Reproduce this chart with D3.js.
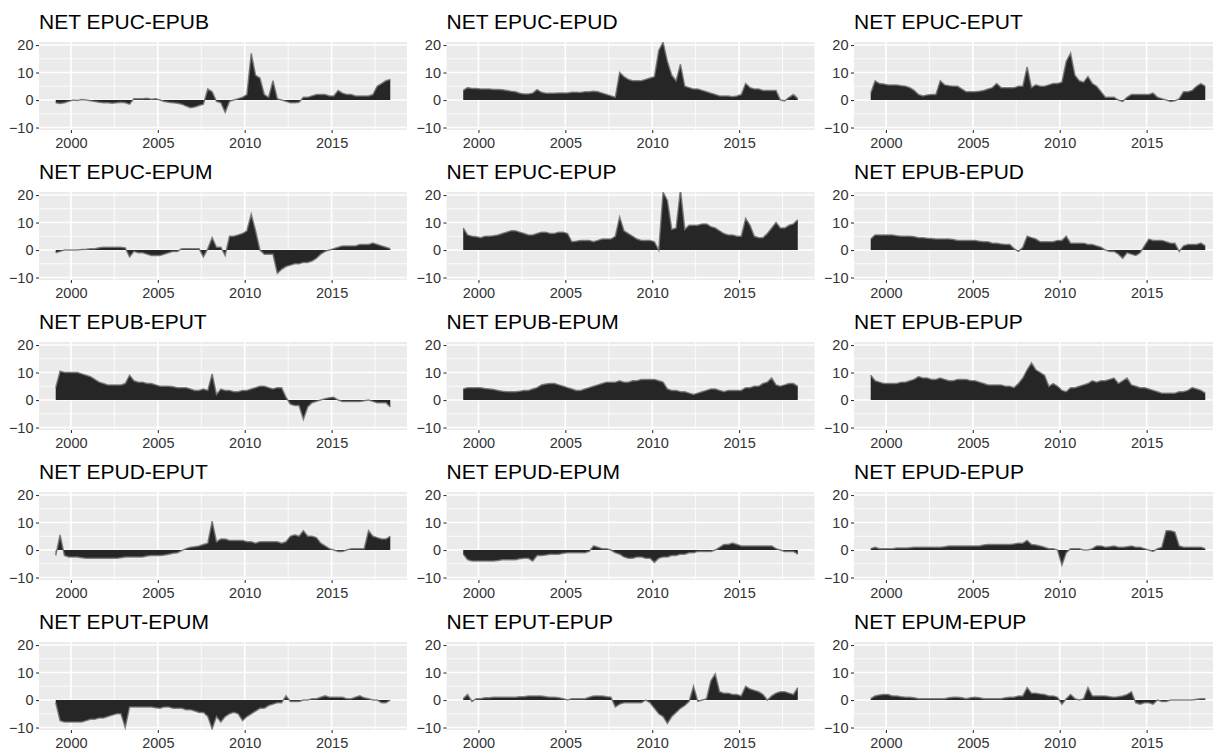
<!DOCTYPE html>
<html>
<head>
<meta charset="utf-8">
<script src="https://cdn.jsdelivr.net/npm/d3@7"></script>
<style>
  body { margin: 0; background: #fff; }
  svg { display: block; font-family: "Liberation Sans", Arial, Helvetica, sans-serif; }
</style>
</head>
<body>
<script>
// panel titles, in facet order (row by row)
var titles = [
  "NET EPUC-EPUB", "NET EPUC-EPUD", "NET EPUC-EPUT",
  "NET EPUC-EPUM", "NET EPUC-EPUP", "NET EPUB-EPUD",
  "NET EPUB-EPUT", "NET EPUB-EPUM", "NET EPUB-EPUP",
  "NET EPUD-EPUT", "NET EPUD-EPUM", "NET EPUD-EPUP",
  "NET EPUT-EPUM", "NET EPUT-EPUP", "NET EPUM-EPUP"
];

var xTicks = [2000, 2005, 2010, 2015];
var xMinor = [2002.5, 2007.5, 2012.5, 2017.5];
var yTicks = [-10, 0, 10, 20];
var yMinor = [-5, 5, 15];
var yLimits = [-10.9, 21.1];

// one value per quarter, 1999 Q1 .. 2018 Q2
var quarters = d3.range(78).map(function(i) { return 1999.125 + i * 0.25; });

var epucEpub = [
  -1, -1.3, -1, -0.5,   0, -0.2, 0.2, 0,   -0.3, -0.5, -0.8, -1,   -1, -1.2, -1, -0.8,
  -1, -1.5, 0.5, 0.5,   0.5, 0.6, 0.3, 0.5,   0, -0.5, -0.8, -1,   -1.2, -1.5, -2.2, -2.8,
  -2.5, -2, -1.5, 4,   3, -0.5, -1, -4.5,   -0.5, 0, 0.5, 1,   2, 17, 9, 8,
  2, 1, 7, 0.5,   0, -0.5, -1, -1,   -0.8, 1, 1, 1.5,   2, 2, 2, 1.5,
  1.5, 3.5, 2.5, 2,   2, 1.5, 1.5, 1.5,   1.5, 2, 5, 6,   7, 7.5
];
var epucEpud = [
  3.5, 4.5, 4.2, 4.2,   4, 4, 4, 3.8,   3.8, 3.7, 3.5, 3.2,   3, 2.5, 2.2, 2.2,
  2.5, 3.8, 2.8, 2.5,   2.5, 2.5, 2.6, 2.6,   2.6, 2.8, 2.8, 2.7,   3, 3, 3.2, 3,
  2.5, 2, 1.5, 1,   10, 8.5, 7.5, 7,   7, 7, 7.5, 8,   8.5, 18, 21, 14,
  9, 7, 13, 5,   4.5, 4, 4, 3.5,   3, 2.5, 2, 1.5,   1.5, 1.5, 1.2, 1.5,
  2, 6, 4.5, 4,   4, 3.5, 3.5, 3.5,   3.5, 0, -0.3, 1,   2, 0.5
];
var epucEput = [
  2.5, 7, 6, 5.8,   5.5, 5.5, 5.5, 5.2,   5, 4.5, 3.5, 2,   1.5, 1.8, 2, 2,
  7, 5.5, 5.2, 5,   5, 4, 3, 3,   3, 3.2, 3.5, 4,   4.5, 6, 4.5, 4.5,
  4.5, 4.5, 5, 5,   12, 4.5, 5.5, 5,   5, 5.5, 6, 6,   6.5, 14, 17, 9,
  7, 6.5, 8.5, 6,   5, 3, 1, 1,   1, 0, -0.5, 1,   2, 2, 2, 2,
  2, 2.5, 1, 0.5,   0, -0.5, -0.3, 0.5,   3, 3, 3.5, 5,   6, 5
];
var epucEpum = [
  -1, -0.5, 0, 0,   0, 0, 0.2, 0.3,   0.5, 0.5, 0.8, 1,   1, 1, 1, 1,
  0.8, -2.5, -0.5, -1,   -1, -1.5, -2, -2,   -2, -1.5, -1, -0.5,   -0.5, 0.5, 0.5, 0.5,
  0.5, 0.5, -2.5, 0.5,   4.5, 1, 1, -2,   5, 5, 5.5, 6,   7, 13, 7, 0,
  -1.5, -1.5, -1.5, -8.5,   -7, -6, -5.5, -5,   -5, -4.5, -4.5, -4,   -3, -1.5, -0.5, 0,
  0.5, 1, 1.5, 1.5,   1.5, 1.5, 2, 2,   2, 2.5, 2, 1.5,   1, 0.5
];
var epucEpup = [
  8, 5.5, 5, 4.8,   4.5, 5, 5, 5.2,   5.5, 6, 6.5, 7,   7, 6.5, 6, 5.5,
  5.5, 6, 6.5, 6.5,   6, 6, 6.5, 6.5,   6, 3, 3.2, 3.5,   3.5, 3.5, 3, 3.5,
  4, 4, 4, 5,   12, 7, 6, 5,   4, 3.5, 3.5, 3.5,   3, 0, 21, 18,
  7.5, 8, 22, 7.5,   9, 9, 9, 9.5,   9.5, 8.5, 8, 7,   6, 5.5, 5.5, 5,
  5, 11.5, 9, 5,   4.5, 4.5, 6, 8,   10, 8, 8, 9,   9.5, 11
];
var epubEpud = [
  4, 5.5, 5.5, 5.5,   5.5, 5.5, 5.2, 5,   5, 5, 4.8, 4.5,   4.5, 4.3, 4.2, 4,
  4, 4, 4, 3.8,   3.5, 3.5, 3.5, 3.5,   3.5, 3.2, 3, 3,   2.5, 2.5, 2.2, 2,
  2, 0.5, -0.5, 1,   5, 4.5, 4, 3,   3, 3, 3, 3.5,   3.5, 5, 2.5, 2.5,
  2.5, 2.5, 2, 2,   1.5, 1, 0, -0.5,   -0.5, -1.5, -3, -1,   -1.5, -2, -1, 1.5,
  4, 3.5, 3.5, 3.5,   3, 2.5, 2.5, -0.5,   1.5, 2, 2, 2,   2.5, 1.5
];
var epubEput = [
  4.5, 10.5, 10, 10,   10, 10, 9.5, 9,   8.5, 7.5, 6.5, 6,   5.5, 5.5, 5.5, 5.5,
  6, 9, 7, 6.5,   6.5, 6, 6, 5.5,   5, 5, 5, 4.8,   4.5, 4.5, 4.5, 4,
  3.5, 3.5, 4, 3.5,   9.5, 2, 4, 3.5,   3.5, 3, 3, 3.5,   3.5, 4, 4.5, 5,
  5, 4.5, 4, 4.5,   4.5, 1, -1.5, -2,   -2, -7, -2.5, -1,   -0.5, 0, 0.5, 0.8,
  1, 0, -0.5, -0.5,   -0.5, -0.5, -0.5, -0.3,   0, -0.5, -1, -1,   -1, -2.5
];
var epubEpum = [
  4, 4.5, 4.5, 4.5,   4.5, 4.2, 4, 3.8,   3.5, 3.2, 3, 3,   3, 3.2, 3.5, 3.5,
  4, 4.5, 5.5, 5.8,   6, 6, 5.5, 5,   4.5, 4, 3.5, 3.5,   4, 4.5, 5, 5.5,
  6, 6.5, 6.5, 6.5,   7, 6.5, 6.5, 7,   7, 7.5, 7.5, 7.5,   7.5, 7, 6.5, 4,
  3.5, 3.5, 3, 3,   2.5, 2, 2.5, 3,   3.5, 4, 4, 3.5,   3, 3.5, 3.5, 3.5,
  3.5, 4.5, 4.5, 5,   5, 6, 6.5, 8,   5.5, 5, 5.5, 6,   6, 5
];
var epubEpup = [
  9, 7, 6.5, 6,   6, 6, 6, 6.5,   6.5, 7, 7.5, 8.5,   8, 8, 7.5, 7.5,
  8, 7.5, 7, 7,   7.5, 7.5, 7.5, 7,   7, 6.5, 6, 5.5,   5.5, 5.5, 5.5, 5,
  5, 4.5, 6, 8,   11, 13.5, 11, 10,   9, 5, 6, 5,   3.5, 3, 4.5, 4.5,
  5, 5.5, 6, 7,   6.5, 7, 7, 7.5,   8, 6, 7, 8,   5.5, 5, 4.5, 4.5,
  4, 3.5, 3, 2.5,   2.5, 2.5, 2.5, 3,   3, 3.5, 4.5, 4,   3.5, 2.5
];
var epudEput = [
  -2, 5.5, -2, -2.5,   -2.5, -2.5, -2.8, -3,   -3, -3, -3, -3,   -3, -3, -3, -2.8,
  -2.5, -2.5, -2.5, -2.5,   -2.5, -2.2, -2, -2,   -2, -1.8, -1.5, -1.2,   -1, -0.2, 0.5, 1,
  1.2, 1.5, 2, 2.5,   10.5, 3, 4, 4,   3.5, 3.5, 3.5, 3.5,   3, 3, 2.5, 3,
  3, 3, 3, 3,   2.5, 3, 5, 5.5,   5, 7, 5, 5,   4.5, 2.5, 1.5, 0.5,
  0, -0.5, -0.5, 0,   0.5, 0.5, 0.5, 0.5,   7, 5, 4.5, 4,   4, 5
];
var epudEpum = [
  -1.5, -3.5, -4, -4,   -4, -4, -4, -4,   -3.8, -3.5, -3.5, -3.5,   -3.5, -3.2, -3, -3,
  -4, -2, -2, -1.8,   -1.5, -1.5, -1.5, -1.2,   -1, -1, -1, -1,   -1, -0.5, 1.5, 1,
  0.5, 0.5, 0, -1,   -1.5, -2.5, -3, -3,   -2.5, -2.5, -3, -3,   -4.5, -3, -2.5, -2.5,
  -2, -2, -1.5, -1.5,   -1, -1, -0.5, -0.5,   -0.5, -0.5, 0, 1,   2, 2, 2.5, 2,
  1.5, 1.5, 1.5, 1.5,   1.5, 1.5, 1.5, 1.5,   0.5, 0, -0.5, -0.5,   -0.5, -1.5
];
var epudEpup = [
  0.5, 1, 0.5, 0.5,   0.5, 0.5, 0.7, 0.7,   0.7, 0.8, 1, 1,   1, 1, 1, 1,
  1, 1.2, 1.5, 1.5,   1.5, 1.5, 1.5, 1.5,   1.5, 1.5, 1.8, 2,   2, 2, 2, 2,
  2, 2.2, 2.5, 2.5,   3.5, 2, 1.8, 1.5,   1, 0.5, 0.5, 0,   -5.5, -1, 0.5, 0.5,
  0.5, 0, 0, 0.5,   1.5, 1.5, 1, 1.2,   1.5, 1, 1, 1.2,   1.5, 1, 1, 0.5,
  0, -0.5, 0.5, 1,   7, 7, 6.5, 1.5,   1, 1, 1, 1,   1, 0.5
];
var eputEpum = [
  -1, -7.5, -8, -8,   -8, -8, -8, -7.5,   -7, -7, -6.5, -6.5,   -6, -5.5, -5, -5,
  -10, -2.5, -2.5, -2.5,   -2.5, -2.5, -2.5, -2.8,   -3, -2.5, -2.5, -3,   -3, -3, -3.5, -3.5,
  -4, -4.5, -4.5, -6,   -10.5, -6, -8, -6,   -5, -4.5, -5, -7.5,   -6, -5, -4, -3,
  -3, -2, -1.5, -1,   -1, 1.5, -0.5, -0.5,   -0.5, 0, 0, 0.5,   0.5, 1, 1.5, 1,
  1, 1, 1, 0.5,   0.5, 1, 1.5, 0.8,   0.5, 0, 0, -1,   -1, 0
];
var eputEpup = [
  0.5, 2, -0.5, 0.5,   0.5, 0.8, 0.8, 1,   1, 1, 1, 1,   1, 1.2, 1.2, 1.5,
  1.5, 1.5, 1.5, 1.2,   1, 1, 0.8, 0.5,   0, 0.5, 0.5, 0.5,   0.5, 1, 1.5, 1.5,
  1.5, 1.2, 1, -2.5,   -1.5, -1, -1, -1,   -1, -1, 0, -1,   -3, -5, -6, -8.5,
  -6, -4.5, -3, -2,   -0.5, 5, -0.5, 0,   0.5, 7, 9.5, 3,   2.5, 2.5, 2, 2,
  1.5, 5, 4, 3.5,   3, 2, 0, 1.5,   2.5, 3, 3, 2.5,   2, 4.5
];
var epumEpup = [
  0.5, 1.5, 1.8, 2,   2, 1.5, 1.5, 1.2,   1, 1, 0.8, 0.5,   0.5, 0.5, 0.5, 0.5,
  0.5, 0.5, 0.8, 1,   1, 0.8, 0.5, 0.8,   1, 0.8, 0.5, 0.5,   0.5, 0.5, 0.5, 0.8,
  1, 1, 1.5, 1.5,   4.5, 2.5, 2.5, 2.2,   2, 1.5, 1.5, 1,   -1.5, 0.5, 2, 0.5,
  0, 0.5, 4.5, 1.5,   1.5, 1.5, 1.5, 1.2,   1, 1.2, 1.5, 2,   3, -1, -1.5, -1,
  -1, -1.5, 0, -0.5,   -0.5, 0, 0, 0,   0, 0, 0, 0.3,   0.5, 0.5
];

var series = [
  epucEpub, epucEpud, epucEput,
  epucEpum, epucEpup, epubEpud,
  epubEput, epubEpum, epubEpup,
  epudEput, epudEpum, epudEpup,
  eputEpum, eputEpup, epumEpup
];

var width = 1213, height = 752;
var panelW = 368, panelH = 88;
var colStep = 407.5, rowStep = 150;
var left0 = 39, top0 = 42;

//create main svg element
var svg = d3.select("body")
  .append("svg")
  .attr("width", width)
  .attr("height", height);

// x range with ggplot's 5% padding on each side
var ext = d3.extent(quarters);
var pad = (ext[1] - ext[0]) * 0.05;
var x = d3.scaleLinear().domain([ext[0] - pad, ext[1] + pad]).range([0, panelW]);
var y = d3.scaleLinear().domain(yLimits).range([panelH, 0]);

var area = d3.area()
  .x(function(d, i) { return x(quarters[i]); })
  .y0(y(0))
  .y1(function(d) { return y(d); });

var line = d3.line()
  .x(function(d, i) { return x(quarters[i]); })
  .y(function(d) { return y(d); });

series.forEach(function(values, k) {
  var col = k % 3, row = Math.floor(k / 3);
  var g = svg.append("g")
    .attr("transform", "translate(" + (left0 + col * colStep) + "," + (top0 + row * rowStep) + ")");

  g.append("text")
    .attr("x", 0)
    .attr("y", -13)
    .attr("font-size", 21)
    .attr("fill", "#000")
    .text(titles[k]);

  g.append("rect")
    .attr("width", panelW)
    .attr("height", panelH)
    .attr("fill", "#ebebeb");

  // minor then major grid
  g.selectAll(".ymin").data(yMinor).enter().append("line")
    .attr("x1", 0).attr("x2", panelW)
    .attr("y1", y).attr("y2", y)
    .attr("stroke", "#fff").attr("stroke-width", 0.8);
  g.selectAll(".xmin").data(xMinor).enter().append("line")
    .attr("y1", 0).attr("y2", panelH)
    .attr("x1", x).attr("x2", x)
    .attr("stroke", "#fff").attr("stroke-width", 0.8);
  g.selectAll(".ymaj").data(yTicks).enter().append("line")
    .attr("x1", 0).attr("x2", panelW)
    .attr("y1", y).attr("y2", y)
    .attr("stroke", "#fff").attr("stroke-width", 1.6);
  g.selectAll(".xmaj").data(xTicks).enter().append("line")
    .attr("y1", 0).attr("y2", panelH)
    .attr("x1", x).attr("x2", x)
    .attr("stroke", "#fff").attr("stroke-width", 1.6);

  var clipId = "clip" + k;
  g.append("clipPath").attr("id", clipId)
    .append("rect").attr("width", panelW).attr("height", panelH);

  var marks = g.append("g").attr("clip-path", "url(#" + clipId + ")");
  marks.append("path")
    .datum(values)
    .attr("d", area)
    .attr("fill", "#262626");
  // lighter edge like the original
  marks.append("path")
    .datum(values)
    .attr("d", line)
    .attr("fill", "none")
    .attr("stroke", "rgba(115,115,115,0.85)")
    .attr("stroke-width", 1.5);

  // axes
  var yAxis = d3.axisLeft(y).tickValues(yTicks).tickSize(3).tickPadding(2.5);
  var ya = g.append("g").call(yAxis);
  var xAxis = d3.axisBottom(x).tickValues(xTicks).tickSize(3).tickPadding(5).tickFormat(d3.format("d"));
  var xa = g.append("g").attr("transform", "translate(0," + panelH + ")").call(xAxis);

  [ya, xa].forEach(function(a) {
    a.select(".domain").remove();
    a.selectAll(".tick line").attr("stroke", "#333").attr("stroke-width", 1.1);
    a.selectAll(".tick text")
      .attr("fill", "#333")
      .attr("font-size", 14.5)
      .attr("font-family", "\"Liberation Sans\", Arial, Helvetica, sans-serif");
  });
});
</script>
</body>
</html>
